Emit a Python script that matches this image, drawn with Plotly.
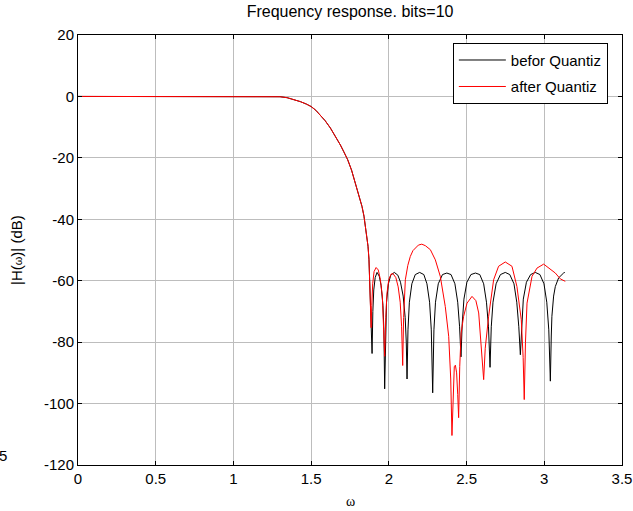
import plotly.graph_objects as go

# magnitude response (frequency in rad/sample, level in dB)
w_before = [0.0, 0.6, 1.25, 1.30, 1.345, 1.40, 1.431, 1.47, 1.50, 1.53, 1.559, 1.59, 1.624, 1.655,
            1.688, 1.71, 1.735, 1.76, 1.785, 1.805, 1.827, 1.84, 1.849, 1.858, 1.866, 1.872,
            1.877, 1.882, 1.887, 1.892,
            1.897, 1.903, 1.912, 1.924, 1.938, 1.950, 1.962, 1.968, 1.973,
            1.978, 1.985, 1.997, 2.012, 2.035, 2.058, 2.075, 2.092, 2.105, 2.112, 2.117,
            2.123, 2.132, 2.148, 2.170, 2.198, 2.225, 2.245, 2.262, 2.273, 2.282,
            2.290, 2.300, 2.318, 2.345, 2.373, 2.400, 2.425, 2.443, 2.455, 2.464,
            2.472, 2.483, 2.502, 2.528, 2.557, 2.585, 2.610, 2.628, 2.641, 2.651,
            2.659, 2.670, 2.690, 2.718, 2.749, 2.778, 2.805, 2.823, 2.836, 2.846,
            2.854, 2.865, 2.885, 2.912, 2.942, 2.972, 2.998, 3.016, 3.029, 3.039,
            3.045, 3.049, 3.060, 3.071, 3.092, 3.110, 3.124, 3.132]
h_before = [0.0, 0.0, 0.0, -0.1, -0.4, -1.1, -1.7, -2.5, -3.3, -4.5, -6.0, -7.9, -10.3, -12.9,
            -15.8, -18.0, -20.6, -24.0, -28.2, -31.8, -35.8, -39.0, -42.3, -45.5, -48.8, -53.0,
            -59.7, -66.0, -74.0, -83.7,
            -70.0, -63.0, -59.0, -57.3, -58.5, -61.5, -68.0, -76.0, -95.2,
            -76.0, -67.0, -61.0, -58.2, -57.3, -58.2, -60.5, -65.0, -72.0, -80.0, -92.0,
            -76.0, -67.0, -61.0, -58.0, -57.3, -58.0, -61.0, -67.0, -76.0, -96.5,
            -76.0, -67.0, -61.0, -58.0, -57.5, -58.0, -61.0, -67.0, -75.0, -84.8,
            -74.0, -66.0, -60.5, -58.0, -57.5, -58.0, -61.0, -67.0, -75.0, -88.2,
            -75.0, -67.0, -61.0, -58.0, -57.3, -58.0, -61.0, -67.0, -75.0, -84.1,
            -74.0, -66.0, -60.5, -58.0, -57.3, -58.0, -61.0, -67.0, -76.0, -92.7,
            -78.0, -71.6, -65.0, -61.9, -59.1, -58.0, -57.5, -57.3]

w_after = [0.0, 0.6, 1.25, 1.30, 1.345, 1.40, 1.431, 1.47, 1.50, 1.53, 1.559, 1.59, 1.624, 1.655,
           1.688, 1.71, 1.735, 1.76, 1.785, 1.805, 1.827, 1.84, 1.849, 1.858, 1.866, 1.872,
           1.877, 1.882, 1.886,
           1.890, 1.896, 1.905, 1.918, 1.932, 1.945, 1.958, 1.966, 1.973,
           1.980, 1.988, 2.000, 2.015, 2.027, 2.045, 2.060, 2.073, 2.082, 2.089,
           2.095, 2.100, 2.106, 2.122, 2.138, 2.155, 2.170, 2.190, 2.212, 2.235, 2.267,
           2.299, 2.331, 2.363, 2.385, 2.398, 2.406, 2.414, 2.421, 2.428, 2.436, 2.443,
           2.449, 2.456, 2.465, 2.481, 2.503, 2.535, 2.560, 2.578, 2.599, 2.610,
           2.620, 2.632, 2.642, 2.674, 2.706, 2.749, 2.792, 2.824, 2.852, 2.864, 2.871,
           2.879, 2.889, 2.921, 2.953, 2.996, 3.039, 3.071, 3.103, 3.135]
h_after = [0.0, 0.0, 0.0, -0.1, -0.4, -1.1, -1.7, -2.5, -3.3, -4.5, -6.0, -7.9, -10.3, -12.9,
           -15.8, -18.0, -20.6, -24.0, -28.2, -31.8, -35.8, -39.0, -42.3, -45.5, -48.8, -53.0,
           -59.7, -66.0, -75.3,
           -68.0, -61.0, -57.0, -55.7, -56.5, -59.5, -65.0, -73.0, -84.6,
           -72.0, -64.0, -59.5, -57.8, -57.7, -59.0, -62.0, -67.0, -75.0, -87.6,
           -72.0, -63.0, -59.7, -55.0, -52.1, -50.2, -49.4, -48.4, -48.1, -48.6, -49.9,
           -53.2, -58.6, -68.4, -78.1, -92.0, -110.4, -95.0, -88.0, -87.5, -90.0, -97.0,
           -104.6, -88.0, -77.0, -71.6, -67.3, -65.1, -66.5, -70.5, -83.4, -92.2,
           -82.0, -75.0, -71.6, -59.7, -55.3, -53.9, -55.3, -61.9, -72.7, -85.0, -98.7,
           -80.0, -67.3, -58.6, -55.9, -54.6, -56.2, -57.5, -59.4, -60.2]

x_ticks = [0, 0.5, 1, 1.5, 2, 2.5, 3, 3.5]
y_ticks = [-120, -100, -80, -60, -40, -20, 0, 20]

font = dict(family="Liberation Sans, Arial, sans-serif", size=15, color="black")

fig = go.Figure()
fig.add_trace(go.Scatter(x=w_before, y=h_before, mode="lines", name="befor Quantiz",
                         line=dict(color="black", width=1), legendgroup="a"))
fig.add_trace(go.Scatter(x=w_after, y=h_after, mode="lines", name="after Quantiz",
                         line=dict(color="red", width=1), legendgroup="b"))

axis_style = dict(showline=True, linecolor="black", linewidth=1, mirror="ticks",
                  ticks="inside", ticklen=4, tickcolor="black", automargin=False,
                  showgrid=True, gridcolor="#bdbdbd", gridwidth=1, zeroline=False,
                  tickfont=font)

fig.update_xaxes(range=[0, 3.5], tickvals=x_ticks, ticktext=[str(v) for v in x_ticks], **axis_style)
fig.update_yaxes(range=[-120, 20], tickvals=y_ticks, ticktext=[str(v) for v in y_ticks], **axis_style)

fig.update_layout(
    width=633, height=511,
    margin=dict(l=78, r=11, t=35, b=46),
    paper_bgcolor="white", plot_bgcolor="white",
    font=font,
    title=dict(text="Frequency response. bits=10", x=0.553, xanchor="center",
               y=0.978, yanchor="middle", font=dict(size=16)),
    showlegend=True,
    legend=dict(x=0.974, y=0.982, xanchor="right", yanchor="top",
                bgcolor="white", bordercolor="black", borderwidth=1,
                traceorder="grouped", tracegroupgap=4, itemwidth=47, font=font),
    annotations=[
        dict(text="|H(<span style='font-size:11px'>ω</span>)| (dB)", textangle=-90,
             xref="paper", yref="paper", x=-0.114, y=0.5, showarrow=False,
             xanchor="center", yanchor="middle", font=font),
        dict(text="ω", xref="paper", yref="paper", x=0.5, y=-0.085, showarrow=False,
             xanchor="center", yanchor="middle",
             font=dict(family="Liberation Serif, Times New Roman, serif", size=14, color="black")),
        dict(text="5", xref="paper", yref="paper", x=-0.127, y=0.022, showarrow=False,
             xanchor="right", yanchor="middle", font=font),
    ],
)

# drop the page's default body margin so the figure sits at the window's corner
fig.write_html("out.html", config={"displayModeBar": False},
               post_script="document.body.style.margin='0px';")
